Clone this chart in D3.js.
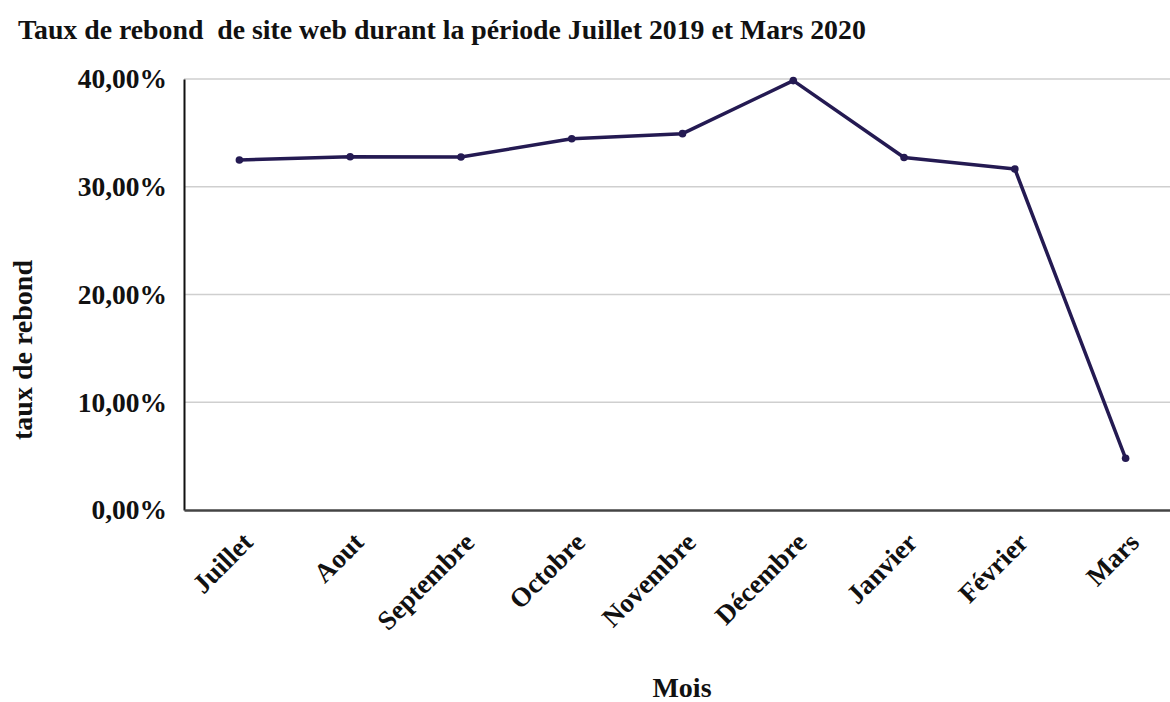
<!DOCTYPE html>
<html>
<head>
<meta charset="utf-8">
<script src="https://cdn.jsdelivr.net/npm/d3@7"></script>
<style>
  html, body { margin: 0; padding: 0; background: #fff; }
  svg { display: block; }
  text { font-family: "Liberation Serif", "DejaVu Serif", serif; font-weight: bold; fill: #111; }
</style>
</head>
<body>
<svg id="chart" width="1170" height="702"></svg>
<script>
// Monthly bounce rate, July 2019 – March 2020 (percent)
const months = ["Juillet", "Aout", "Septembre", "Octobre", "Novembre", "Décembre", "Janvier", "Février", "Mars"];
const bounceRate = [32.48, 32.79, 32.76, 34.46, 34.93, 39.85, 32.72, 31.65, 4.8];
const yTicks = [0, 10, 20, 30, 40];

const titleText = "Taux de rebond  de site web durant la période Juillet 2019 et Mars 2020";
const yTitle = "taux de rebond";
const xTitle = "Mois";

const svg = d3.select("#chart");
const plot = { left: 184, right: 1181, top: 79, bottom: 510 };

const x = d3.scaleBand().domain(months).range([plot.left, plot.right]);
const y = d3.scaleLinear().domain([0, 40]).range([plot.bottom, plot.top]);

const fmt = v => d3.format(".2f")(v).replace(".", ",") + "%";

// Title
svg.append("text")
  .attr("x", 18).attr("y", 39)
  .attr("font-size", 27.8)
  .attr("xml:space", "preserve")
  .style("white-space", "pre")
  .text(titleText);

// Horizontal gridlines
svg.append("g")
  .selectAll("line")
  .data(yTicks.filter(d => d > 0))
  .join("line")
  .attr("x1", plot.left).attr("x2", 1170)
  .attr("y1", d => y(d)).attr("y2", d => y(d))
  .attr("stroke", "#cfcfcf").attr("stroke-width", 1.5);

// Y axis
const yAxis = svg.append("g")
  .attr("transform", `translate(${plot.left},0)`)
  .call(d3.axisLeft(y).tickValues(yTicks).tickFormat(fmt).tickSize(0).tickPadding(17));
yAxis.select(".domain").attr("stroke", "#111").attr("stroke-width", 2);
yAxis.selectAll("text")
  .attr("font-size", 27.5)
  .attr("font-family", "Liberation Serif, serif")
  .attr("font-weight", "bold")
  .attr("fill", "#222");

// X axis
const xAxis = svg.append("g")
  .attr("transform", `translate(0,${plot.bottom})`)
  .call(d3.axisBottom(x).tickSize(0).tickFormat(""));
xAxis.select(".domain").attr("stroke", "#444").attr("stroke-width", 2.5);

// Rotated month labels
svg.append("g")
  .selectAll("text")
  .data(months)
  .join("text")
  .attr("transform", d => `translate(${x(d) + x.bandwidth() / 2 + 15},${plot.bottom + 34}) rotate(-45)`)
  .attr("text-anchor", "end")
  .attr("font-size", 27)
  .attr("fill", "#222")
  .text(d => d);

// Axis titles
svg.append("text")
  .attr("transform", `translate(32,350) rotate(-90)`)
  .attr("text-anchor", "middle")
  .attr("font-size", 28)
  .text(yTitle);

svg.append("text")
  .attr("x", 682).attr("y", 697)
  .attr("text-anchor", "middle")
  .attr("font-size", 28)
  .text(xTitle);

// Series line
const data = months.map((m, i) => ({ m, v: bounceRate[i] }));
const line = d3.line()
  .x(d => x(d.m) + x.bandwidth() / 2)
  .y(d => y(d.v));

svg.append("path")
  .datum(data)
  .attr("fill", "none")
  .attr("stroke", "#241a52")
  .attr("stroke-width", 3.5)
  .attr("stroke-linejoin", "round")
  .attr("d", line);

svg.append("g")
  .selectAll("circle")
  .data(data)
  .join("circle")
  .attr("cx", d => x(d.m) + x.bandwidth() / 2)
  .attr("cy", d => y(d.v))
  .attr("r", 3.8)
  .attr("fill", "#241a52");
</script>
</body>
</html>
